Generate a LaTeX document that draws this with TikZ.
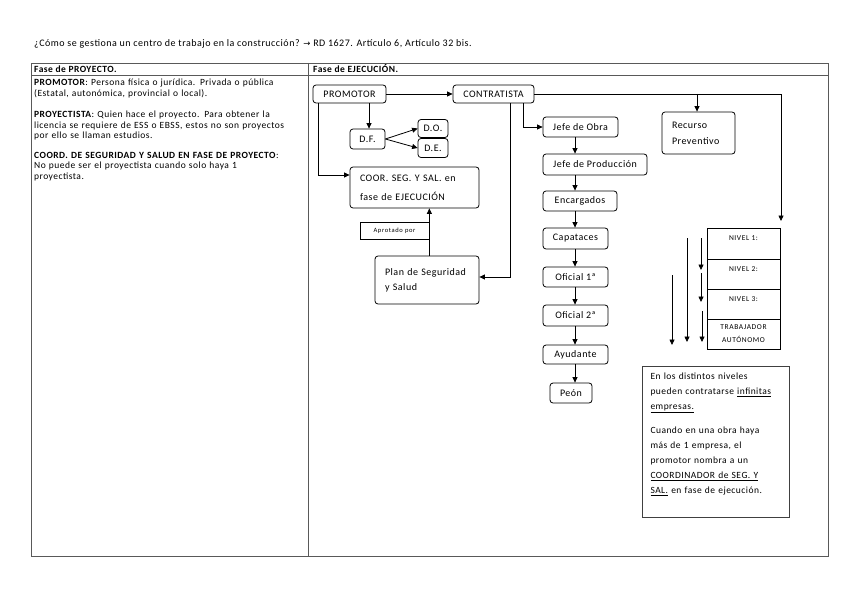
\documentclass[tikz,border=0pt]{standalone}
\usepackage{fontspec}
\setmainfont{Carlito}[LetterSpace=5]
\newfontfamily\symfont{DejaVu Sans}
\usetikzlibrary{arrows.meta}
\begin{document}
\begin{tikzpicture}[x=1pt,y=-1pt,
  every node/.style={inner sep=0pt},
  grid/.style={draw=black!65, line width=0.8pt},
  nbox/.style={draw, rounded corners=3pt, line width=0.8pt, font=\fontsize{10}{11}\selectfont, align=center},
  tbox/.style={nbox, align=left, inner xsep=10pt},
  sqbox/.style={draw, line width=0.7pt},
  lev/.style={sqbox, minimum width=73pt, minimum height=30pt, font=\fontsize{7.5}{13}\selectfont\addfontfeature{LetterSpace=8}, align=center},
  arr/.style={-{Triangle[length=5.5pt,width=5pt]}, line width=0.8pt},
  txt/.style={font=\fontsize{9.5}{10.5}\selectfont, align=left}]
\fill[white] (0,0) rectangle (848,599);
\useasboundingbox (0,0) rectangle (848,599);

% title
\node[anchor=base west, font=\fontsize{10}{11}\selectfont] (title) at (34,47) {¿Cómo se gestiona un centro de trabajo en la construcción? {\symfont\fontsize{8.5}{10}\selectfont →} RD 1627. Artículo 6, Artículo 32 bis.};

% table
\draw[grid] (31,63) rectangle (828,556);
\draw[grid] (31,75) -- (828,75);
\draw[grid] (308,63) -- (308,556);
\node[anchor=base west, font=\bfseries\fontsize{9.5}{11}\selectfont] (hp) at (34,72.5) {Fase de PROYECTO.};
\node[anchor=base west, font=\bfseries\fontsize{9.5}{11}\selectfont] (he) at (313,72.5) {Fase de EJECUCIÓN.};

% left column text
\node[txt, anchor=north west, text width=272pt] (lt) at (34,79) {\textbf{PROMOTOR}: Persona física o jurídica. Privada o pública\\
(Estatal, autonómica, provincial o local).\\[11pt]
\textbf{PROYECTISTA}: Quien hace el proyecto. Para obtener la\\
licencia se requiere de ESS o EBSS, estos no son proyectos\\
por ello se llaman estudios.\\[9pt]
\textbf{COORD. DE SEGURIDAD Y SALUD EN FASE DE PROYECTO}:\\
No puede ser el proyectista cuando solo haya 1\\
proyectista.};

% right column nodes
\node[nbox, minimum width=73pt, minimum height=18pt] (prom) at (349.5,94) {PROMOTOR};
\node[nbox, minimum width=81pt, minimum height=18pt] (contr) at (493.5,94) {CONTRATISTA};
\node[nbox, minimum width=35pt, minimum height=20pt] (df) at (367.5,139) {D.F.};
\node[nbox, minimum width=30pt, minimum height=18pt] (do) at (433,128.5) {D.O.};
\node[nbox, minimum width=30pt, minimum height=19pt] (de) at (433,148) {D.E.};
\node[tbox, text width=109pt, minimum height=41pt, font=\fontsize{10}{19}\selectfont] (coor) at (414.5,187.5) {COOR. SEG. Y SAL. en\\fase de EJECUCIÓN};
\node[sqbox, minimum width=69pt, minimum height=17pt, font=\fontsize{6.5}{7}\selectfont\addfontfeature{LetterSpace=10}] (aprob) at (394.5,230.5) {Aprotado por};
\node[tbox, text width=84pt, minimum height=48pt, font=\fontsize{10}{15}\selectfont] (plan) at (427,280) {Plan de Seguridad\\y Salud};
\node[tbox, text width=53pt, minimum height=42pt, font=\fontsize{10}{16}\selectfont] (rec) at (698.5,133) {Recurso\\Preventivo};

\node[nbox, minimum width=75pt, minimum height=20pt] (jobra) at (580.5,127) {Jefe de Obra};
\node[nbox, minimum width=104pt, minimum height=21pt] (jprod) at (595,164.5) {Jefe de Producción};
\node[nbox, minimum width=74pt, minimum height=20pt] (enc) at (580,201) {Encargados};
\node[nbox, minimum width=65pt, minimum height=21pt] (cap) at (575.5,238.5) {Capataces};
\node[nbox, minimum width=65pt, minimum height=20pt] (of1) at (575.5,277) {Oficial 1ª};
\node[nbox, minimum width=65pt, minimum height=21pt] (of2) at (575.5,315.5) {Oficial 2ª};
\node[nbox, minimum width=65pt, minimum height=19pt] (ayu) at (575.5,354.5) {Ayudante};
\node[nbox, minimum width=42pt, minimum height=20pt] (peon) at (571,393) {Peón};

% levels
\node[lev, minimum height=31pt, text height=7pt, text depth=13pt] (n1) at (743.5,243.5) {NIVEL 1:};
\node[lev, text height=7pt, text depth=13pt] (n2) at (743.5,274) {NIVEL 2:};
\node[lev, text height=7pt, text depth=13pt] (n3) at (743.5,304) {NIVEL 3:};
\node[lev] (n4) at (743.5,334) {TRABAJADOR\\AUTÓNOMO};

% info box
\node[draw=black!75, line width=1pt, anchor=north west, align=left, text width=131pt, inner xsep=8pt, inner ysep=6pt, text height=7pt, text depth=132pt, font=\fontsize{9.5}{15}\selectfont] (info) at (642,366) {En los distintos niveles\\
pueden contratarse \underline{infinitas}\\
\underline{empresas.}\\[9pt]
Cuando en una obra haya\\
más de 1 empresa, el\\
promotor nombra a un\\
\underline{COORDINADOR de SEG. Y}\\
\underline{SAL.} en fase de ejecución.};

% connectors
\draw[arr] (prom) -- (contr);
\draw[arr] ([xshift=1.5pt]df.north |- prom.south) -- ([xshift=1.5pt]df.north);
\draw[arr] (df.east) -- (do.west);
\draw[arr] (df.east) -- (de.west);
\draw[arr] ([xshift=-31.5pt]prom.south) |- ([yshift=12.5pt]coor.west);
\draw[arr] ([xshift=16.5pt]contr.south) |- ([yshift=3pt]plan.east);
\draw[arr] (aprob.east |- plan.north) -- (aprob.east |- coor.south);
\draw[arr] ([xshift=29.5pt]contr.south) |- (jobra.west);
\coordinate (colx) at (575,0);
\foreach \a/\b in {jobra/jprod, jprod/enc, enc/cap, cap/of1, of1/of2, of2/ayu, ayu/peon}
  \draw[arr] (colx |- \a.south) -- (colx |- \b.north);
\coordinate (lvtop) at (781,221);
\draw[arr] (contr.east) -| (lvtop);
\draw[arr] ([xshift=-1.5pt]rec.north |- contr.east) -- ([xshift=-1.5pt]rec.north);

% level arrows
\coordinate (a1s) at (701,238); \coordinate (a1e) at (701,270);
\coordinate (a2s) at (701,273); \coordinate (a2e) at (701,302);
\coordinate (a3s) at (702,311); \coordinate (a3e) at (702,342);
\coordinate (a4s) at (687,238); \coordinate (a4e) at (687,342);
\coordinate (a5s) at (672,275); \coordinate (a5e) at (672,345);
\foreach \i in {1,...,5} \draw[arr] (a\i s) -- (a\i e);
\end{tikzpicture}
\end{document}
